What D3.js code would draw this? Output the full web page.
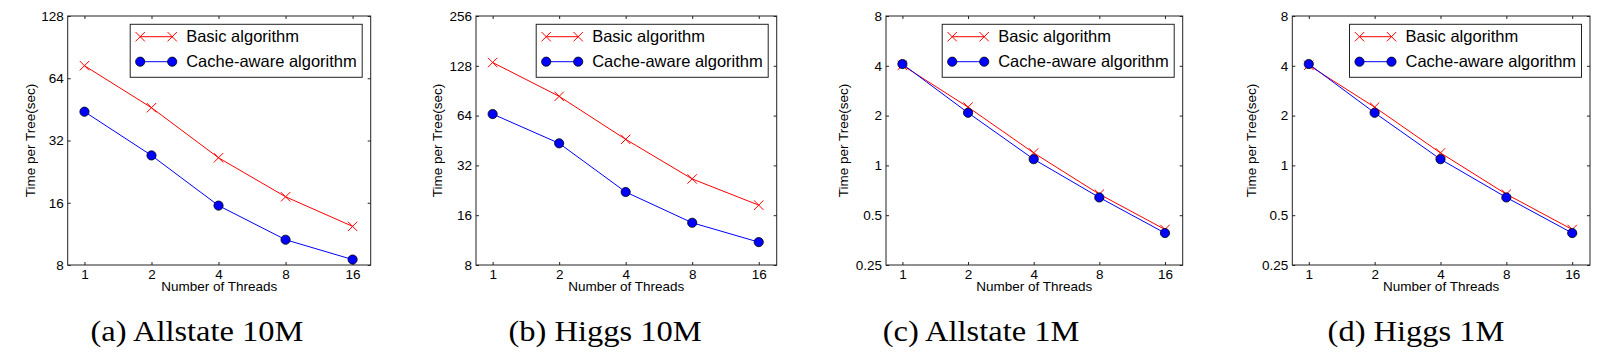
<!DOCTYPE html>
<html>
<head>
  <title>Time per Tree vs Number of Threads</title>
  <script src="https://d3js.org/d3.v7.min.js"></script>
  <style>
    body { margin: 0; background: #fff; }
    .tick text { font-family: "Liberation Sans", Arial, sans-serif; font-size: 13.5px; fill: #000; }
    .tick line { stroke: #222; }
    .axis-label { font-family: "Liberation Sans", Arial, sans-serif; font-size: 13.5px; fill: #000; }
    .legend-text { font-family: "Liberation Sans", Arial, sans-serif; font-size: 16.5px; fill: #000; }
    .caption { font-family: "Liberation Serif", "DejaVu Serif", serif; font-size: 29px; fill: #000; }
  </style>
</head>
<body>
<script>
  // Data
  const threads = [1, 2, 4, 8, 16];
  const captions = ["(a) Allstate 10M", "(b) Higgs 10M", "(c) Allstate 1M", "(d) Higgs 1M"];
  const seriesNames = ["Basic algorithm", "Cache-aware algorithm"];

  const yTicksA = [8, 16, 32, 64, 128];
  const yTicksB = [8, 16, 32, 64, 128, 256];
  const yTicksC = [0.25, 0.5, 1, 2, 4, 8];
  const yTicksD = [0.25, 0.5, 1, 2, 4, 8];

  const basicA = [73.6, 46.1, 26.4, 17.1, 12.3];
  const cacheA = [44.1, 27.1, 15.5, 10.6, 8.5];
  const basicB = [134, 83.7, 46, 26.5, 18.4];
  const cacheB = [65.4, 43.5, 22.1, 14.4, 11.0];
  const basicC = [4.03, 2.25, 1.19, 0.67, 0.41];
  const cacheC = [4.1, 2.08, 1.09, 0.64, 0.39];
  const basicD = [4.03, 2.25, 1.19, 0.67, 0.41];
  const cacheD = [4.1, 2.08, 1.09, 0.64, 0.39];

  // layout of the four sub-figures
  const layout = [
    {left: 67.7, right: 370.7, ylab: 30, cap: 197},
    {left: 476, right: 776.7, ylab: 437, cap: 605},
    {left: 886, right: 1182.7, ylab: 843, cap: 981},
    {left: 1292.3, right: 1590, ylab: 1251.7, cap: 1416}
  ];
  const plotTop = 16, plotBottom = 265;

  const panels = [
    {caption: captions[0], yTicks: yTicksA, basic: basicA, cache: cacheA},
    {caption: captions[1], yTicks: yTicksB, basic: basicB, cache: cacheB},
    {caption: captions[2], yTicks: yTicksC, basic: basicC, cache: cacheC},
    {caption: captions[3], yTicks: yTicksD, basic: basicD, cache: cacheD}
  ];

  const svg = d3.select("body").append("svg")
    .attr("width", 1622)
    .attr("height", 354);

  const red = "#ff0000", blue = "#0000ff";

  function xMark(g, cx, cy, r) {
    g.append("path")
      .attr("d", `M${cx - r},${cy - r}L${cx + r},${cy + r}M${cx - r},${cy + r}L${cx + r},${cy - r}`)
      .attr("stroke", red)
      .attr("stroke-width", 1)
      .attr("fill", "none");
  }
  function dot(g, cx, cy) {
    g.append("circle")
      .attr("cx", cx).attr("cy", cy).attr("r", 4.6)
      .attr("fill", blue)
      .attr("stroke", "#000")
      .attr("stroke-width", 0.8);
  }

  panels.forEach(function(p, i) {
    const L = layout[i];
    const g = svg.append("g");

    const x = d3.scaleLog().base(2)
      .domain([Math.pow(2, -0.25), Math.pow(2, 4.27)])
      .range([L.left, L.right]);
    const y = d3.scaleLog().base(2)
      .domain([p.yTicks[0], p.yTicks[p.yTicks.length - 1]])
      .range([plotBottom, plotTop]);

    // axes with inward ticks on all four sides
    g.append("g").attr("transform", `translate(0,${plotBottom})`)
      .call(d3.axisBottom(x).tickValues(threads).tickSize(-3).tickSizeOuter(0).tickPadding(4.5).tickFormat(d => d));
    g.append("g").attr("transform", `translate(0,${plotTop})`)
      .call(d3.axisTop(x).tickValues(threads).tickSize(-3).tickSizeOuter(0).tickFormat(""));
    g.append("g").attr("transform", `translate(${L.left},0)`)
      .call(d3.axisLeft(y).tickValues(p.yTicks).tickSize(-3).tickSizeOuter(0).tickPadding(4).tickFormat(d => d));
    g.append("g").attr("transform", `translate(${L.right},0)`)
      .call(d3.axisRight(y).tickValues(p.yTicks).tickSize(-3).tickSizeOuter(0).tickFormat(""));
    g.selectAll(".domain").remove();

    g.append("rect")
      .attr("x", L.left).attr("y", plotTop)
      .attr("width", L.right - L.left).attr("height", plotBottom - plotTop)
      .attr("fill", "none").attr("stroke", "#222").attr("stroke-width", 1);

    // lines
    const line = d3.line()
      .x((d, j) => x(threads[j]))
      .y(d => y(d));

    g.append("path").attr("d", line(p.basic))
      .attr("fill", "none").attr("stroke", red).attr("stroke-width", 1);
    g.append("path").attr("d", line(p.cache))
      .attr("fill", "none").attr("stroke", blue).attr("stroke-width", 1);

    p.basic.forEach((v, j) => xMark(g, x(threads[j]), y(v), 4.7));
    p.cache.forEach((v, j) => dot(g, x(threads[j]), y(v)));

    // axis labels
    g.append("text").attr("class", "axis-label")
      .attr("x", (L.left + L.right) / 2).attr("y", 291)
      .attr("text-anchor", "middle")
      .text("Number of Threads");
    g.append("text").attr("class", "axis-label")
      .attr("transform", `translate(${L.ylab},${(plotTop + plotBottom) / 2}) rotate(-90)`)
      .attr("dy", "0.35em")
      .attr("text-anchor", "middle")
      .text("Time per Tree(sec)");

    // legend
    const lw = 232, lh = 53;
    const lx = L.right - 8.5 - lw, ly = 24.3;
    const lg = g.append("g");
    lg.append("rect")
      .attr("x", lx).attr("y", ly).attr("width", lw).attr("height", lh)
      .attr("fill", "#fff").attr("stroke", "#222").attr("stroke-width", 1);
    const rows = [ly + 12.4, ly + 37.4];
    lg.append("line").attr("x1", lx + 10).attr("x2", lx + 42)
      .attr("y1", rows[0]).attr("y2", rows[0]).attr("stroke", red);
    xMark(lg, lx + 10, rows[0], 4.7);
    xMark(lg, lx + 42, rows[0], 4.7);
    lg.append("line").attr("x1", lx + 10).attr("x2", lx + 42)
      .attr("y1", rows[1]).attr("y2", rows[1]).attr("stroke", blue);
    dot(lg, lx + 10, rows[1]);
    dot(lg, lx + 42, rows[1]);
    seriesNames.forEach(function(name, k) {
      lg.append("text").attr("class", "legend-text")
        .attr("x", lx + 56).attr("y", rows[k])
        .attr("dy", "0.35em")
        .text(name);
    });

    // caption
    const cap = g.append("text").attr("class", "caption")
      .attr("x", L.cap).attr("y", 340.7)
      .attr("text-anchor", "middle")
      .text(p.caption);
    const w = cap.node().getComputedTextLength();
    cap.attr("textLength", w * 1.12).attr("lengthAdjust", "spacingAndGlyphs");
  });
</script>
</body>
</html>
